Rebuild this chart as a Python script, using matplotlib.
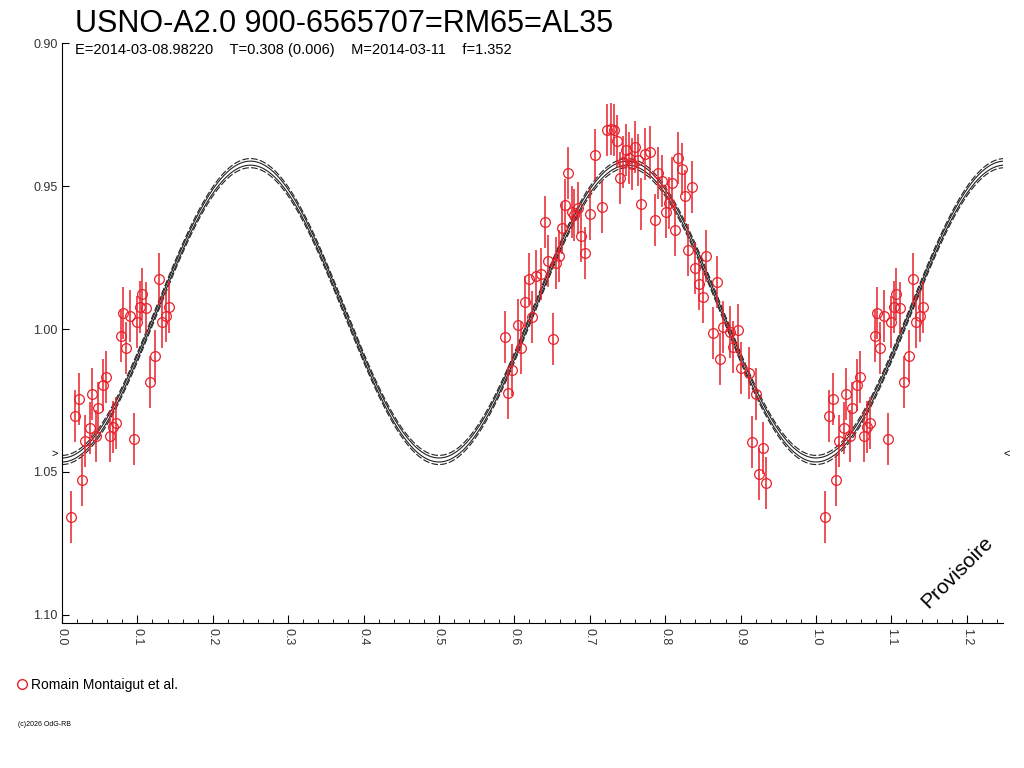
import numpy as np
import matplotlib.pyplot as plt

plt.rcParams['font.family'] = ['Liberation Sans', 'DejaVu Sans']

# observations (phase, magnitude), group near phase 0 is repeated at phase+1
phase_a = [0.012, 0.017, 0.023, 0.027, 0.031, 0.037, 0.040, 0.045, 0.048, 0.054,
           0.058, 0.064, 0.068, 0.072, 0.078, 0.081, 0.085, 0.090, 0.095, 0.099,
           0.103, 0.106, 0.111, 0.117, 0.123, 0.129, 0.133, 0.138, 0.142]
mag_a = [1.0657, 1.0304, 1.0245, 1.0528, 1.0392, 1.0346, 1.0227, 1.0374, 1.0276, 1.0196,
         1.0168, 1.0374, 1.0343, 1.0329, 1.0024, 0.9944, 1.0066, 0.9955, 1.0385, 0.9976,
         0.9923, 0.9878, 0.9927, 1.0185, 1.0094, 0.9825, 0.9976, 0.9955, 0.9923]
phase_b = [0.588, 0.592, 0.597, 0.605, 0.609, 0.614, 0.619, 0.623, 0.629, 0.635,
           0.641, 0.645, 0.651, 0.655, 0.659, 0.663, 0.667, 0.671, 0.676, 0.679,
           0.684, 0.688, 0.694, 0.700, 0.707, 0.716, 0.723, 0.728, 0.732, 0.736,
           0.740, 0.744, 0.748, 0.752, 0.756, 0.760, 0.764, 0.768, 0.773, 0.780,
           0.786, 0.790, 0.796, 0.801, 0.805, 0.809, 0.813, 0.817, 0.822, 0.826,
           0.836, 0.830, 0.840, 0.845, 0.850, 0.854, 0.863, 0.869, 0.873, 0.877,
           0.886, 0.897, 0.890, 0.901, 0.911, 0.920, 0.915, 0.930, 0.924, 0.934]
mag_b = [1.0028, 1.0224, 1.0143, 0.9986, 1.0066, 0.9906, 0.9825, 0.9958, 0.9815, 0.9808,
         0.9626, 0.9762, 1.0035, 0.9769, 0.9745, 0.9647, 0.9566, 0.9455, 0.9591, 0.9601,
         0.9577, 0.9675, 0.9734, 0.9598, 0.9392, 0.9573, 0.9304, 0.9301, 0.9304, 0.9343,
         0.9472, 0.9416, 0.9374, 0.9402, 0.9423, 0.9364, 0.9409, 0.9563, 0.9388, 0.9381,
         0.9619, 0.9455, 0.9483, 0.9591, 0.9559, 0.9490, 0.9654, 0.9402, 0.9441, 0.9535,
         0.9503, 0.9724, 0.9787, 0.9843, 0.9888, 0.9745, 1.0014, 0.9836, 1.0105, 0.9993,
         1.0010, 1.0003, 1.0063, 1.0136, 1.0154, 1.0227, 1.0395, 1.0416, 1.0507, 1.0538]
err = 0.009

# model light curve parameters
mean_mag = 0.9939
amplitude = 0.0519
band_solid = 0.0007
band_dash = 0.0016

ph = np.array(phase_a + [p + 1 for p in phase_a] + phase_b)
mg = np.array(mag_a + mag_a + mag_b)

fig = plt.figure(figsize=(10.24, 7.68), dpi=100)
ax = fig.add_axes([0.0605, 0.1888, 0.919, 0.7552])

x = np.linspace(0, 1.25, 600)
model = mean_mag + amplitude * np.cos(4 * np.pi * x)
for d in (-band_solid, band_solid):
    ax.plot(x, model + d, color='#222222', lw=0.8)
for d in (-band_dash, band_dash):
    ax.plot(x, model + d, color='#222222', lw=0.8, ls=(0, (6, 2)))

ax.errorbar(ph, mg, yerr=err, fmt='o', mfc='none', mec='#e8202a', ecolor='#e8202a',
            ms=7, mew=0.9, elinewidth=1.1, capsize=0)

ax.set_xlim(0, 1.248)
ax.set_ylim(1.1028, 0.90)
for s in ('top', 'right'):
    ax.spines[s].set_visible(False)
ax.set_xticks(np.arange(0, 1.25, 0.1))
ax.set_xticklabels([f'{v:.1f}' for v in np.arange(0, 1.25, 0.1)], rotation=-90, fontsize=9,
                   color='#333333')
ax.set_xticks(np.arange(0, 1.25, 0.02), minor=True)
ax.tick_params(axis='x', which='major', length=6, direction='in')
ax.tick_params(axis='x', which='minor', length=3, direction='in')
ax.set_yticks([0.90, 0.95, 1.00, 1.05, 1.10])
ax.set_yticklabels(['0.90', '0.95', '1.00', '1.05', '1.10'], fontsize=9, color='#333333')
ax.tick_params(axis='y', length=5, direction='in', pad=3)

fig.text(0.073, 0.958, 'USNO-A2.0 900-6565707=RM65=AL35', fontsize=22)
fig.text(0.073, 0.930, 'E=2014-03-08.98220    T=0.308 (0.006)    M=2014-03-11    f=1.352',
         fontsize=10.5)
fig.text(0.050, 0.405, '>', fontsize=8)
fig.text(0.980, 0.405, '<', fontsize=8)
fig.text(0.935, 0.255, 'Provisoire', fontsize=15, rotation=45, ha='center', va='center')
fig.lines.append(plt.Line2D([0.021], [0.110], transform=fig.transFigure, marker='o',
                            mfc='none', mec='#e8202a', ms=7))
fig.text(0.030, 0.103, 'Romain Montaigut et al.', fontsize=10)
fig.text(0.018, 0.055, '(c)2026 OdG-RB', fontsize=5)

fig.savefig('out.png', dpi=100)
